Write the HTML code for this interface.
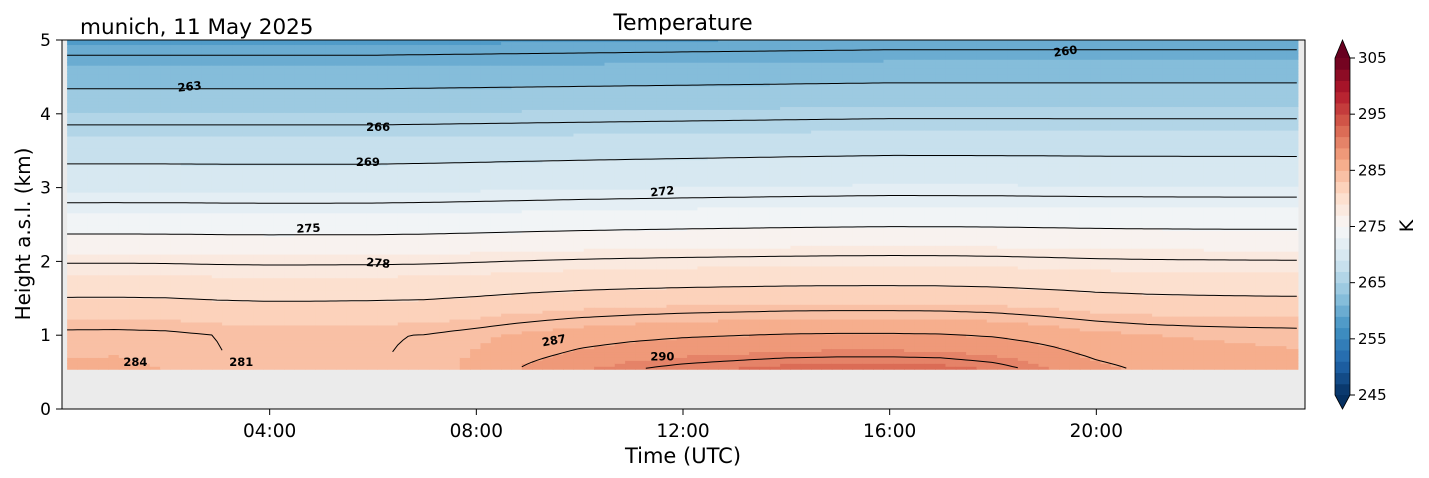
<!DOCTYPE html>
<html><head><meta charset="utf-8">
<style>
body{margin:0;background:#fff;}
svg{display:block;font-family:"DejaVu Sans","Liberation Sans",sans-serif;}
</style></head>
<body>
<svg id="chart" width="1429" height="478" viewBox="0 0 1429 478" xmlns="http://www.w3.org/2000/svg">
  <rect x="62" y="40" width="1243" height="369" fill="#ebebeb"/>
  <g id="cells"></g>
  <g id="contours" fill="none" stroke="#000" stroke-width="1"></g>
  <g id="clabels" font-size="11.5" font-weight="bold" text-anchor="middle"></g>
  <rect x="62" y="40" width="1243" height="369" fill="none" stroke="#000" stroke-width="1"/>
  <g id="xaxis" font-size="18.5" text-anchor="middle"></g>
  <g id="yaxis" font-size="17" text-anchor="end"></g>
  <text x="683" y="463" font-size="21" text-anchor="middle">Time (UTC)</text>
  <text transform="translate(30,234) rotate(-90)" font-size="20" text-anchor="middle">Height a.s.l. (km)</text>
  <text x="683" y="30" font-size="22" text-anchor="middle">Temperature</text>
  <text x="80" y="34" font-size="21.5">munich, 11 May 2025</text>
  <g id="cbar"></g>
  <text transform="translate(1413,226) rotate(-90)" font-size="19" text-anchor="middle">K</text>
</svg>
<script>
// ---- data ----
const heights = [0.55,0.75,1.0,1.25,1.5,1.75,2.0,2.5,3.0,3.5,4.0,4.5,5.0];
const nightProfile = [284.8,284.6,284.3,282.7,281,279.4,277.8,274,270.6,268.1,265.1,262,258.6];
const anomWeight = [1,0.7,0.42,0.3,0.2,0.12,0.08,0.04,0.02,0.01,0,0,0];
const hours = [0,1,2,3,4,5,6,7,8,9,10,11,12,13,14,15,16,17,18,19,20,21,22,23,24];
const sfcAnom = [0.4,0.5,0.2,-0.8,-1.3,-1.2,-1,-0.6,0.8,2.5,4,5,5.8,6.3,6.8,7,7,6.8,6,4.5,2.8,1.8,1.3,1,0.8];
const upperTrend = [0,0,0,0,0,0,0,0.05,0.1,0.15,0.2,0.25,0.3,0.35,0.4,0.45,0.5,0.5,0.5,0.5,0.5,0.5,0.5,0.5,0.5];
const contourLevels = [260,263,266,269,272,275,278,281,284,287,290];
const labelTexts = ['260','263','266','269','272','275','278','281','284','287','290'];
const labelTimes = [19.4,2.45,6.1,5.9,11.6,4.75,6.1,3.45,1.4,9.5,11.6];
const labelHeights = [4.85,4.37,3.82,3.35,2.95,2.45,1.98,0.64,0.64,0.93,0.71];
const labelAngles = [-8,-6,0,0,-6,-3,5,0,0,-10,0];
const xTickHours = [4,8,12,16,20];
const xTickLabels = ['04:00','08:00','12:00','16:00','20:00'];
const yTicks = [0,1,2,3,4,5];
const cbarTicks = [245,255,265,275,285,295,305];
const vmin=245, vmax=305, step=2;
const dataStart=0.08, dataEnd=23.9, dataBottom=0.54, dataTop=5;

// ---- scales ----
const x = h => 63 + h*(1303-63)/24;
const y = km => 409 - km*(409-40)/5;
const NS='http://www.w3.org/2000/svg';
function mk(tag, attrs, parent){const e=document.createElementNS(NS,tag);for(const k in attrs)e.setAttribute(k,attrs[k]);parent.appendChild(e);return e;}

function interp(xs, ys, v){
  if(v<=xs[0])return ys[0];
  for(let i=1;i<xs.length;i++){if(v<=xs[i]){const f=(v-xs[i-1])/(xs[i]-xs[i-1]);return ys[i-1]+f*(ys[i]-ys[i-1]);}}
  return ys[ys.length-1];
}
function temp(t,h){
  const base=interp(heights,nightProfile,h);
  const w=interp(heights,anomWeight,h);
  const a=interp(hours,sfcAnom,t);
  const u=interp(hours,upperTrend,t)*Math.max(0,Math.min(1,(h-1.5)/1));
  return base+a*w+u;
}
// RdBu_r
const anchors=['#053061','#2166ac','#4393c3','#92c5de','#d1e5f0','#f7f7f7','#fddbc7','#f4a582','#d6604d','#b2182b','#67001f'];
function hex2rgb(h){return [1,3,5].map(i=>parseInt(h.substr(i,2),16));}
function cmap(f){
  f=Math.max(0,Math.min(1,f));const p=f*(anchors.length-1);const i=Math.min(anchors.length-2,Math.floor(p));const r=p-i;
  const a=hex2rgb(anchors[i]),b=hex2rgb(anchors[i+1]);
  return 'rgb('+a.map((v,k)=>Math.round(v+r*(b[k]-v))).join(',')+')';
}
const nLev=(vmax-vmin)/step;
function levelColor(T){let i=Math.floor((T-vmin)/step);i=Math.max(0,Math.min(nLev-1,i));return cmap((i+0.5)/nLev);}

// ---- field ----
const cells=document.getElementById('cells');
const dt=0.2, dh=0.04;
for(let t=dataStart;t<dataEnd-1e-9;t+=dt){
  const t1=Math.min(dataEnd,t+dt);
  for(let h=dataBottom;h<dataTop-1e-9;h+=dh){
    const h1=Math.min(dataTop,h+dh);
    const r=mk('rect',{x:x(t).toFixed(2),y:y(h1).toFixed(2),width:(x(t1)-x(t)+0.6).toFixed(2),height:(y(h)-y(h1)+0.6).toFixed(2),fill:levelColor(temp((t+t1)/2,(h+h1)/2))},cells);
    
    
  }
}
// ---- contours ----
const cg=document.getElementById('contours');
contourLevels.forEach(L=>{
  let segs=[],cur=[];
  for(let t=dataStart;t<=dataEnd+1e-9;t+=0.1){
    let found=null;
    for(let h=dataTop;h>dataBottom;h-=0.01){
      const a=temp(t,h),b=temp(t,h-0.01);
      if((a-L)*(b-L)<=0&&a!==b){found=h-0.01*(a-L)/(a-b);break;}
    }
    if(found!==null)cur.push([x(t),y(found)]);
    else if(cur.length){segs.push(cur);cur=[];}
  }
  if(cur.length)segs.push(cur);
  segs.forEach(s=>{
    if(s.length<2)return;
    const p=mk('polyline',{points:s.map(q=>q[0].toFixed(1)+','+q[1].toFixed(1)).join(' ')},cg);
    
    
  });
});
const lg=document.getElementById('clabels');
labelTexts.forEach((s,i)=>{
  const tx=x(labelTimes[i]),ty=y(labelHeights[i]);
  const t=mk('text',{x:tx,y:ty+4,transform:'rotate('+labelAngles[i]+' '+tx+' '+ty+')'},lg);
  t.textContent=s;
  
  
});
// ---- axes ----
const xa=document.getElementById('xaxis');
xTickHours.forEach((hr,i)=>{
  const l=mk('line',{x1:x(hr),x2:x(hr),y1:409,y2:415,stroke:'#000'},xa);
  
  
  const t=mk('text',{x:x(hr),y:437},xa);t.textContent=xTickLabels[i];
  
  
});
const ya=document.getElementById('yaxis');
yTicks.forEach(v=>{
  const l=mk('line',{x1:56,x2:62,y1:y(v),y2:y(v),stroke:'#000'},ya);
  
  
  const t=mk('text',{x:51,y:y(v)+6},ya);t.textContent=v;
  
  
});
// ---- colorbar ----
const cb=document.getElementById('cbar');
const cy=v=>395-(v-vmin)*(395-58)/(vmax-vmin);
for(let i=0;i<nLev;i++){
  const v0=vmin+i*step,v1=v0+step;
  const r=mk('rect',{x:1335,y:cy(v1),width:15,height:cy(v0)-cy(v1)+0.5,fill:cmap((i+0.5)/nLev)},cb);
  
  
}
const up=mk('polygon',{points:'1335,58 1350,58 1342.5,40',fill:cmap(1)},cb);


const dn=mk('polygon',{points:'1335,395 1350,395 1342.5,409',fill:cmap(0)},cb);


const ol=mk('polygon',{points:'1335,58 1342.5,40 1350,58 1350,395 1342.5,409 1335,395',fill:'none',stroke:'#000','stroke-width':0.8},cb);


cbarTicks.forEach(v=>{
  const l=mk('line',{x1:1350,x2:1355,y1:cy(v),y2:cy(v),stroke:'#000'},cb);
  
  
  const t=mk('text',{x:1358,y:cy(v)+5,'font-size':15},cb);t.textContent=v;
  
  
});
</script>
</body></html>
